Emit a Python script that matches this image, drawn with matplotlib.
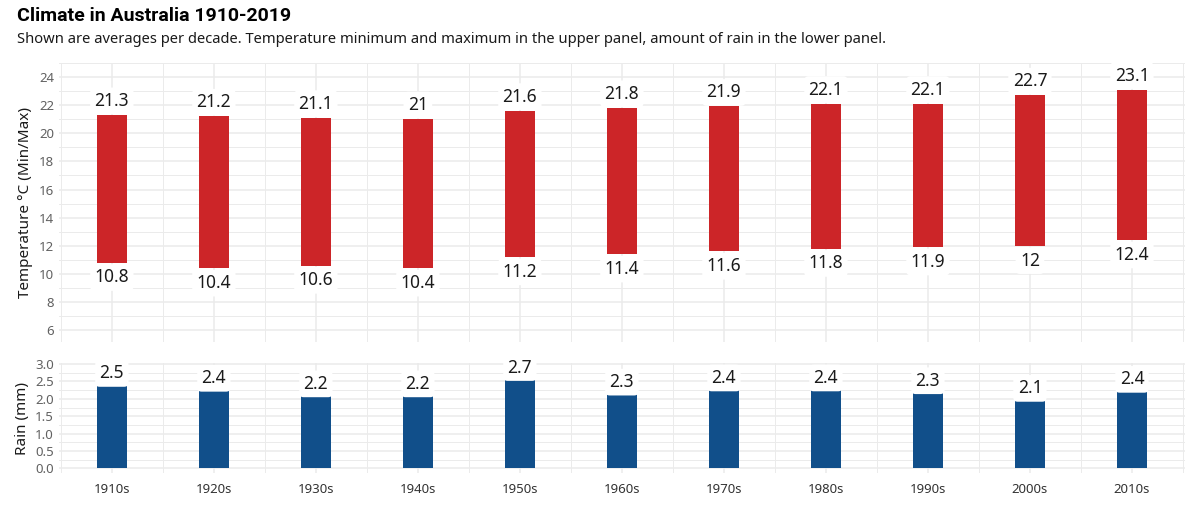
import matplotlib
matplotlib.use('Agg')
import matplotlib.pyplot as plt
import numpy as np
from matplotlib.ticker import MultipleLocator

plt.rcParams['font.family'] = ['Noto Sans', 'DejaVu Sans']

decades = ['1910s', '1920s', '1930s', '1940s', '1950s', '1960s',
           '1970s', '1980s', '1990s', '2000s', '2010s']
temp_max = [21.3, 21.2, 21.1, 21.0, 21.6, 21.8, 21.9, 22.1, 22.1, 22.7, 23.1]
temp_min = [10.8, 10.4, 10.6, 10.4, 11.2, 11.4, 11.6, 11.8, 11.9, 12.0, 12.4]
rain = [2.43, 2.29, 2.13, 2.13, 2.60, 2.18, 2.30, 2.30, 2.22, 2.00, 2.26]
rain_labels = ['2.5', '2.4', '2.2', '2.2', '2.7', '2.3', '2.4', '2.4', '2.3', '2.1', '2.4']

red = '#cc2528'
blue = '#114f8a'
grid_col = '#ebebeb'
tick_col = '#616161'

x = np.arange(len(decades))
w = 0.29

fig = plt.figure(figsize=(12, 5.07), dpi=100)
ax1 = fig.add_axes([0.049, 0.325, 0.9385, 0.551])
ax2 = fig.add_axes([0.049, 0.067, 0.9385, 0.217])

for ax in (ax1, ax2):
    ax.set_xlim(-0.52, 10.52)
    ax.set_xticks(x)
    ax.xaxis.set_minor_locator(MultipleLocator(1, offset=0.5))
    ax.grid(True, which='major', color=grid_col, lw=1.1, zorder=0)
    ax.grid(True, which='minor', color=grid_col, lw=0.7, zorder=0)
    for s in ax.spines.values():
        s.set_visible(False)
    ax.tick_params(which='both', length=0, colors=tick_col, labelsize=9.5)
    ax.set_axisbelow(True)

lbl_box = dict(boxstyle='round,pad=0.25', fc='white', ec='none')

# upper panel: min/max temperature
heights = np.array(temp_max) - np.array(temp_min)
ax1.bar(x, heights, w, bottom=temp_min, color=red, zorder=2)
for xi, hi, lo in zip(x, temp_max, temp_min):
    ax1.text(xi, hi + 1.0, '%g' % hi, ha='center', va='center', fontsize=12.5,
             color='#1a1a1a', bbox=lbl_box, zorder=3)
    ax1.text(xi, lo - 1.05, '%g' % lo, ha='center', va='center', fontsize=12.5,
             color='#1a1a1a', bbox=lbl_box, zorder=3)
ax1.set_ylim(5.15, 25.0)
ax1.set_yticks(np.arange(6, 25, 2))
ax1.yaxis.set_minor_locator(MultipleLocator(1))
ax1.tick_params(axis='x', labelbottom=False)
ax1.set_ylabel('Temperature °C (Min/Max)', fontsize=11, color='#1a1a1a')

# lower panel: rain
ax2.bar(x, rain, w, color=blue, zorder=2)
for xi, r, lab in zip(x, rain, rain_labels):
    ax2.text(xi, r + 0.3, lab, ha='center', va='center', fontsize=12.5,
             color='#1a1a1a', bbox=lbl_box, zorder=3)
ax2.set_ylim(-0.135, 3.03)
ax2.set_yticks(np.arange(0, 3.01, 0.5))
ax2.set_yticklabels(['%.1f' % v for v in np.arange(0, 3.01, 0.5)])
ax2.yaxis.set_minor_locator(MultipleLocator(0.25))
ax2.set_xticklabels(decades, color='#333333')
ax2.tick_params(axis='x', pad=7)
ax2.set_ylabel('Rain (mm)', fontsize=11, color='#1a1a1a')

fig.align_ylabels([ax1, ax2])

fig.text(0.014, 0.968, 'Climate in Australia 1910-2019', fontsize=14,
         fontweight='bold', family=['Roboto', 'DejaVu Sans'], ha='left', va='center')
fig.text(0.014, 0.922, 'Shown are averages per decade. Temperature minimum and maximum '
         'in the upper panel, amount of rain in the lower panel.',
         fontsize=10.6, ha='left', va='center', color='#1a1a1a')

fig.savefig('out.png', dpi=100)
